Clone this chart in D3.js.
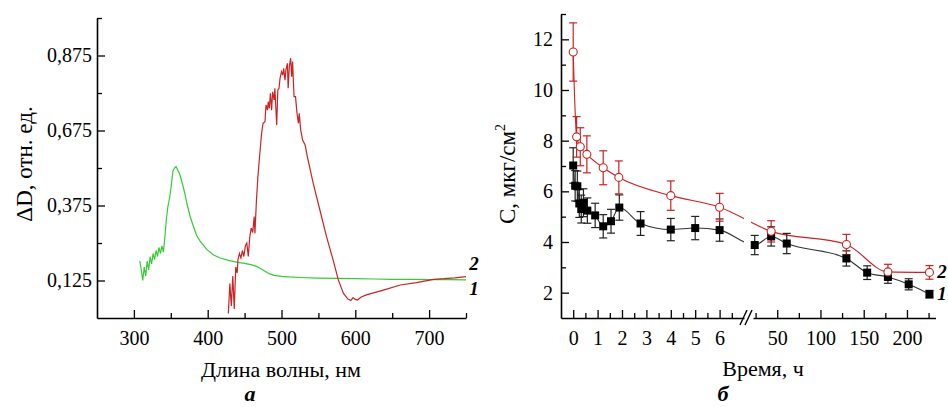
<!DOCTYPE html>
<html>
<head>
<meta charset="utf-8">
<script src="https://cdn.jsdelivr.net/npm/d3@7"></script>
<style>
  body { margin: 0; background: #fff; }
  svg { display: block; }
  svg text { font-family: "Liberation Serif", "DejaVu Serif", serif; }
</style>
</head>
<body>
<div id="vis"></div>
<script>
// ---- panel a: spectra ----
const waveTicks = [300, 400, 500, 600, 700];
const waveMinor = [350, 450, 550, 650, 750];
const dTicks = [0.125, 0.375, 0.625, 0.875];
const dTickLabels = ["0,125", "0,375", "0,675", "0,875"];
const dMinor = [0.25, 0.5, 0.75, 1.0];

// curve 2 (green)
const greenWave = [308, 310, 312, 314, 316, 318, 320, 322, 324, 326, 328, 330, 332, 334, 336, 338, 340, 342, 344, 346,
  349, 351, 353, 355, 357, 359, 362, 365, 369, 372, 376, 380, 385, 390, 399, 408, 417, 428, 439, 450,
  460, 466, 471, 477, 484, 490, 500, 510, 525, 550, 575, 600, 625, 650, 675, 700, 725, 750];
const greenD = [0.19, 0.16, 0.125, 0.17, 0.14, 0.19, 0.16, 0.205, 0.18, 0.215, 0.195, 0.225, 0.205, 0.235, 0.215, 0.24, 0.22, 0.27, 0.33, 0.37,
  0.41, 0.45, 0.49, 0.5, 0.505, 0.495, 0.48, 0.455, 0.415, 0.38, 0.34, 0.31, 0.275, 0.255, 0.228, 0.21, 0.2, 0.192, 0.186, 0.182,
  0.177, 0.172, 0.166, 0.157, 0.147, 0.142, 0.139, 0.137, 0.135, 0.133, 0.132, 0.131, 0.13, 0.129, 0.129, 0.128, 0.128, 0.127];

// curve 1 (red)
const redWave = [428, 430, 432, 434, 436, 438, 440, 441, 443, 445, 447, 449, 451, 453, 455, 457, 459, 461, 463, 464,
  466, 468, 470, 473, 475, 477.6, 479, 481, 482, 483.5, 485, 486.6, 488, 490, 491, 493.5, 495, 496.6, 498, 500,
  501.6, 503, 504.7, 506, 508, 509, 510.6, 512.4, 513.8, 515, 517, 519, 521, 523, 524, 526, 528.6, 532, 535, 543,
  552, 561, 570, 577, 584, 590, 594, 597, 600, 603, 608, 615, 638, 661, 683, 706, 720, 735, 750];
const redD = [0.015, 0.115, 0.04, 0.14, 0.03, 0.17, 0.15, 0.195, 0.215, 0.2, 0.225, 0.205, 0.24, 0.25, 0.205, 0.27, 0.3, 0.285, 0.338, 0.282,
  0.39, 0.47, 0.53, 0.616, 0.649, 0.654, 0.71, 0.693, 0.721, 0.699, 0.749, 0.693, 0.754, 0.727, 0.766, 0.643, 0.76, 0.766, 0.799, 0.821,
  0.81, 0.832, 0.793, 0.827, 0.849, 0.766, 0.838, 0.866, 0.804, 0.855, 0.738, 0.738, 0.682, 0.649, 0.682, 0.627, 0.593, 0.577, 0.538, 0.449,
  0.36, 0.271, 0.193, 0.127, 0.082, 0.063, 0.058, 0.068, 0.062, 0.06, 0.07, 0.077, 0.093, 0.11, 0.118, 0.129, 0.131, 0.134, 0.138];

// ---- panel б: concentration vs time ----
const timeTicksLeft = [0, 1, 2, 3, 4, 5, 6];
const timeMinorLeft = [0.5, 1.5, 2.5, 3.5, 4.5, 5.5, 6.5];
const timeTicksRight = [50, 100, 150, 200];
const timeMinorRight = [25, 75, 125, 175, 225];
const cTicks = [2, 4, 6, 8, 10, 12];
const cMinor = [3, 5, 7, 9, 11, 13];

// series 1 (black squares)
const time1 = [0, 0.08, 0.17, 0.25, 0.33, 0.42, 0.58, 0.9, 1.23, 1.55, 1.89, 2.76, 4, 5, 6, 24, 43, 61, 130, 154, 178, 202, 226];
const conc1 = [7.02, 6.22, 6.2, 5.52, 5.3, 5.55, 5.24, 5.05, 4.62, 4.82, 5.36, 4.73, 4.49, 4.55, 4.47, 3.88, 4.22, 3.94, 3.35, 2.79, 2.62, 2.33, 1.94];
const err1 = [0.7, 0.6, 0.6, 0.55, 0.55, 0.55, 0.5, 0.48, 0.46, 0.47, 0.5, 0.47, 0.44, 0.46, 0.44, 0.38, 0.38, 0.4, 0.3, 0.27, 0.25, 0.22, 0.15];

// series 2 (red circles)
const time2 = [0, 0.14, 0.29, 0.56, 1.23, 1.87, 4, 6, 43, 130, 178, 226];
const conc2 = [11.5, 8.15, 7.76, 7.46, 6.93, 6.55, 5.83, 5.37, 4.42, 3.9, 2.82, 2.8];
const err2 = [1.15, 0.8, 0.75, 0.73, 0.67, 0.65, 0.58, 0.55, 0.42, 0.4, 0.3, 0.27];

const serif = "Liberation Serif, DejaVu Serif, serif";
const RED = "#cc2222";
const GREEN = "#33cc33";

const svg = d3.select("#vis")
  .append("svg")
  .attr("width", 948)
  .attr("height", 407);

function styleAxis(g) {
  g.attr("font-family", null).attr("font-size", 20);
  g.selectAll("text").attr("fill", "#000").style("font-family", serif);
  g.selectAll("line").attr("stroke", "#000").attr("stroke-width", 1.3);
  g.select(".domain").attr("stroke", "#000").attr("stroke-width", 1.6);
}

function label(x, y, size, txt) {
  return svg.append("text")
    .attr("x", x).attr("y", y)
    .attr("text-anchor", "middle")
    .attr("font-size", size)
    .style("font-family", serif)
    .text(txt);
}

// ===== panel a =====
const xA = d3.scaleLinear().domain([250, 750]).range([97, 466]);
const yA = d3.scaleLinear().domain([0, 1]).range([318, 18]);

svg.append("g")
  .attr("transform", "translate(0,318)")
  .call(d3.axisBottom(xA).tickValues(waveTicks).tickSizeInner(-8).tickSizeOuter(0).tickPadding(13))
  .call(styleAxis);
svg.append("g")
  .attr("transform", "translate(0,318)")
  .call(d3.axisBottom(xA).tickValues(waveMinor).tickSizeInner(-5).tickSizeOuter(0).tickFormat(""))
  .call(styleAxis)
  .select(".domain").remove();

svg.append("g")
  .attr("transform", "translate(97,0)")
  .call(d3.axisLeft(yA).tickValues(dTicks).tickFormat((d, i) => dTickLabels[i])
    .tickSizeInner(-8).tickSizeOuter(0).tickPadding(5))
  .call(styleAxis);
svg.append("g")
  .attr("transform", "translate(97,0)")
  .call(d3.axisLeft(yA).tickValues(dMinor).tickSizeInner(-5).tickSizeOuter(0).tickFormat(""))
  .call(styleAxis)
  .select(".domain").remove();

const lineA = d3.line().x(d => xA(d[0])).y(d => yA(d[1]));

svg.append("path")
  .datum(d3.zip(greenWave, greenD))
  .attr("fill", "none")
  .attr("stroke", GREEN)
  .attr("stroke-width", 1.2)
  .attr("d", lineA);

svg.append("path")
  .datum(d3.zip(redWave, redD))
  .attr("fill", "none")
  .attr("stroke", RED)
  .attr("stroke-width", 1.2)
  .attr("d", lineA);

label(281, 377, 22, "Длина волны, нм");
label(0, 0, 23, "ΔD, отн. ед.").attr("transform", "translate(32,164) rotate(-90)");
label(250, 401, 22, "а").attr("font-style", "italic").attr("font-weight", "bold");
label(474, 270, 19, "2").attr("font-style", "italic").attr("font-weight", "bold");
label(474, 295, 19, "1").attr("font-style", "italic").attr("font-weight", "bold");

// ===== panel б (broken time axis) =====
const xL = d3.scaleLinear().domain([-0.5, 7]).range([561, 744]);
const xR = d3.scaleLinear().domain([22, 233]).range([753, 935.5]);
const xT = t => (t <= 7 ? xL(t) : xR(t));
const yC = d3.scaleLinear().domain([1, 13]).range([318, 14]);

[[xL, timeTicksLeft, timeMinorLeft], [xR, timeTicksRight, timeMinorRight]].forEach(([sc, major, minor]) => {
  svg.append("g")
    .attr("transform", "translate(0,318)")
    .call(d3.axisBottom(sc).tickValues(major).tickSizeInner(-8).tickSizeOuter(0).tickPadding(13))
    .call(styleAxis);
  svg.append("g")
    .attr("transform", "translate(0,318)")
    .call(d3.axisBottom(sc).tickValues(minor).tickSizeInner(-5).tickSizeOuter(0).tickFormat(""))
    .call(styleAxis)
    .select(".domain").remove();
});

// break marks
[0, 5].forEach(dx => {
  svg.append("line")
    .attr("x1", 740 + dx).attr("y1", 325)
    .attr("x2", 747 + dx).attr("y2", 310)
    .attr("stroke", "#000").attr("stroke-width", 1.4);
});

svg.append("g")
  .attr("transform", "translate(561,0)")
  .call(d3.axisLeft(yC).tickValues(cTicks).tickSizeInner(-8).tickSizeOuter(0).tickPadding(8))
  .call(styleAxis);
svg.append("g")
  .attr("transform", "translate(561,0)")
  .call(d3.axisLeft(yC).tickValues(cMinor).tickSizeInner(-5).tickSizeOuter(0).tickFormat(""))
  .call(styleAxis)
  .select(".domain").remove();

const s1 = time1.map((t, i) => ({ t, v: conc1[i], e: err1[i] }));
const s2 = time2.map((t, i) => ({ t, v: conc2[i], e: err2[i] }));

const lineC = d3.line().x(d => xT(d.t)).y(d => yC(d.v)).curve(d3.curveMonotoneX);

svg.append("path").datum(s2)
  .attr("fill", "none").attr("stroke", RED).attr("stroke-width", 1.1)
  .attr("d", lineC);
svg.append("path").datum(s1)
  .attr("fill", "none").attr("stroke", "#333").attr("stroke-width", 1.1)
  .attr("d", lineC);

// gap in the lines at the axis break
svg.append("rect")
  .attr("x", 744).attr("y", 14)
  .attr("width", 7).attr("height", 296)
  .attr("fill", "#fff");

function drawErrors(data, color) {
  const g = svg.append("g").attr("stroke", color).attr("stroke-width", 1.2);
  data.forEach(d => {
    const x = xT(d.t);
    g.append("line").attr("x1", x).attr("x2", x).attr("y1", yC(d.v - d.e)).attr("y2", yC(d.v + d.e));
    g.append("line").attr("x1", x - 4).attr("x2", x + 4).attr("y1", yC(d.v - d.e)).attr("y2", yC(d.v - d.e));
    g.append("line").attr("x1", x - 4).attr("x2", x + 4).attr("y1", yC(d.v + d.e)).attr("y2", yC(d.v + d.e));
  });
}

drawErrors(s1, "#222");
drawErrors(s2, RED);

svg.selectAll("rect.sq")
  .data(s1)
  .enter()
  .append("rect")
  .attr("class", "sq")
  .attr("x", d => xT(d.t) - 4)
  .attr("y", d => yC(d.v) - 4)
  .attr("width", 8).attr("height", 8)
  .attr("fill", "#000");

svg.selectAll("circle.cr")
  .data(s2)
  .enter()
  .append("circle")
  .attr("class", "cr")
  .attr("cx", d => xT(d.t))
  .attr("cy", d => yC(d.v))
  .attr("r", 4)
  .attr("fill", "#fff")
  .attr("stroke", RED)
  .attr("stroke-width", 1.1);

label(763, 376, 22, "Время, ч");

const cLabel = label(0, 0, 23, null).attr("transform", "translate(515,174) rotate(-90)");
cLabel.append("tspan").text("С, мкг/см");
cLabel.append("tspan").attr("font-size", 14).attr("dy", -10).text("2");

label(723, 401, 22, "б").attr("font-style", "italic").attr("font-weight", "bold");
label(942, 278, 19, "2").attr("font-style", "italic").attr("font-weight", "bold");
label(942, 300, 19, "1").attr("font-style", "italic").attr("font-weight", "bold");
</script>
</body>
</html>
